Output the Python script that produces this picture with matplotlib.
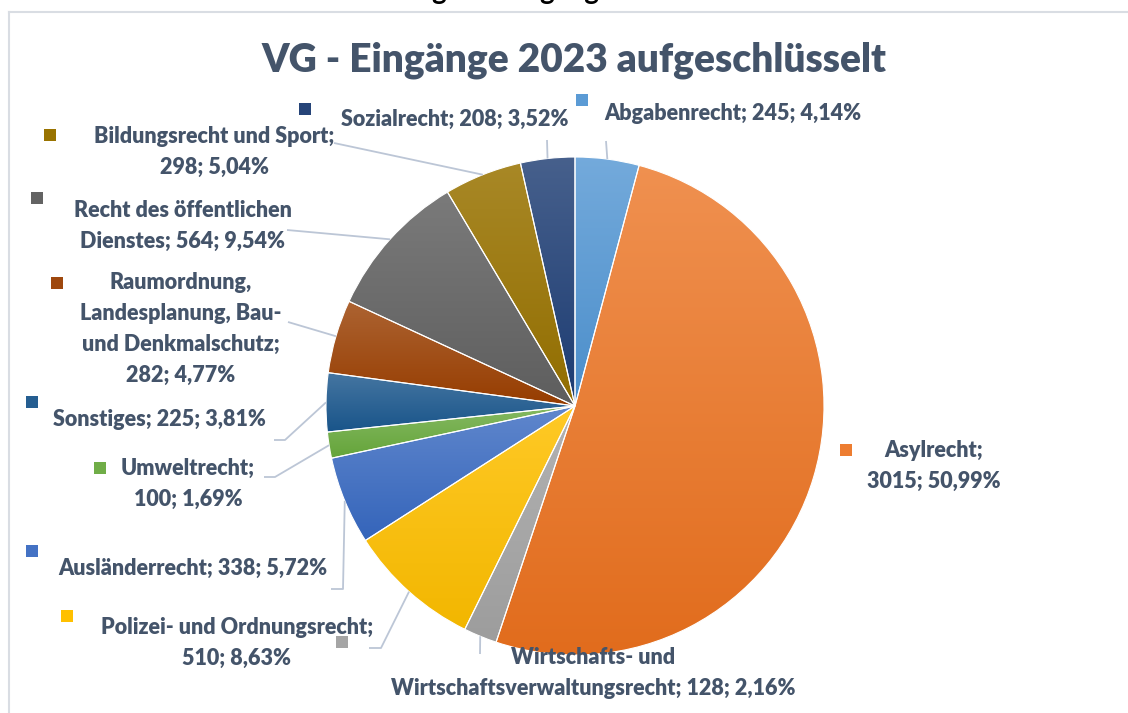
import numpy as np
import matplotlib
matplotlib.use('Agg')
import matplotlib.pyplot as plt
from matplotlib.patches import Rectangle
from matplotlib.colors import to_rgb, rgb_to_hsv, hsv_to_rgb

# Data (clockwise from 12 o'clock)
categories = [
    'Abgabenrecht', 'Asylrecht', 'Wirtschafts- und Wirtschaftsverwaltungsrecht',
    'Polizei- und Ordnungsrecht', 'Ausländerrecht', 'Umweltrecht', 'Sonstiges',
    'Raumordnung, Landesplanung, Bau- und Denkmalschutz', 'Recht des öffentlichen Dienstes',
    'Bildungsrecht und Sport', 'Sozialrecht',
]
values = [245, 3015, 128, 510, 338, 100, 225, 282, 564, 298, 208]
percent_labels = ['4,14%', '50,99%', '2,16%', '8,63%', '5,72%', '1,69%', '3,81%',
                  '4,77%', '9,54%', '5,04%', '3,52%']
# label text as shown (line breaks where Excel wrapped them)
label_texts = [
    'Abgabenrecht; 245; 4,14%',
    'Asylrecht;\n3015; 50,99%',
    'Wirtschafts- und\nWirtschaftsverwaltungsrecht; 128; 2,16%',
    'Polizei- und Ordnungsrecht;\n510; 8,63%',
    'Ausländerrecht; 338; 5,72%',
    'Umweltrecht;\n100; 1,69%',
    'Sonstiges; 225; 3,81%',
    'Raumordnung,\nLandesplanung, Bau-\nund Denkmalschutz;\n282; 4,77%',
    'Recht des öffentlichen\nDienstes; 564; 9,54%',
    'Bildungsrecht und Sport;\n298; 5,04%',
    'Sozialrecht; 208; 3,52%',
]
colors = ['#5B9BD5', '#ED7D31', '#A5A5A5', '#FFC000', '#4472C4', '#70AD47',
          '#255E91', '#9E480E', '#636363', '#997300', '#264478']

W, H = 1128, 713
text_color = '#44546A'
line_color = '#BCC6D6'

# layout in pixels (x from left, y from top)
cx, cy, R = 575, 406, 249
label_pos = [(733, 113), (934, 466), (593, 673), (237, 643), (193, 568), (188, 484),
             (159, 419), (181, 329), (183, 226), (214, 152), (455, 119)]
marker_pos = [(582, 100), (846, 450), (342, 642), (67, 616), (32, 551), (100, 468),
              (32, 402), (57, 283), (37, 198), (50, 135), (305, 109)]
# leader line start points near the labels (None = no leader line), stub = short horizontal piece
leader_start = [(606, 141), None, (480, 654), (369, 648), (331, 589), (264, 477),
                (274, 440), (288, 322), (287, 230), (334, 143), (547, 140)]
leader_stub = [0, 0, 0, 12, 12, 11, 11, 0, 0, 0, 0]


def Y(py):
    return H - py


fig = plt.figure(figsize=(W / 100, H / 100), dpi=100)
ax = fig.add_axes([0, 0, 1, 1])

wedges, _ = ax.pie(values, colors=colors, startangle=90, counterclock=False,
                   center=(cx, Y(cy)), radius=R,
                   wedgeprops=dict(linewidth=0.8, edgecolor='white'))

# Excel-like top-to-bottom gradient inside each slice
for w, col in zip(wedges, colors):
    c = np.array(to_rgb(col))
    top = c + (1 - c) * 0.15
    h, s, v = rgb_to_hsv(c)
    bot = hsv_to_rgb([h, min(1, s * 1.1), v * 0.95])
    t = np.linspace(0, 1, 256)[:, None, None]
    grad = top * (1 - t) + bot * t
    bb = w.get_path().get_extents()
    im = ax.imshow(grad, extent=(bb.x0, bb.x1, bb.y0, bb.y1), origin='upper',
                   aspect='auto', zorder=1, interpolation='bilinear')
    im.set_clip_path(w)
    w.set_facecolor('none')
    w.set_zorder(2)

# leader lines from label to the middle of each slice edge
total = sum(values)
cum = np.cumsum([0] + values[:-1])
for i, v in enumerate(values):
    if leader_start[i] is None:
        continue
    ang = np.radians((cum[i] + v / 2) / total * 360)
    ex = cx + R * np.sin(ang)
    ey = cy - R * np.cos(ang)
    sx, sy = leader_start[i]
    xs = [sx, sx + leader_stub[i], ex]
    ys = [Y(sy), Y(sy), Y(ey)]
    ax.plot(xs, ys, color=line_color, lw=1.3, zorder=3, solid_capstyle='butt')

# data labels with colour markers
for i, txt in enumerate(label_texts):
    lx, ly = label_pos[i]
    ax.text(lx, Y(ly), txt, ha='center', va='center', multialignment='center',
            fontsize=15.5, fontweight='heavy', family='Lato', color=text_color,
            linespacing=1.6, zorder=4)
    mx, my = marker_pos[i]
    ax.add_patch(Rectangle((mx - 6, Y(my) - 6), 12, 12, facecolor=colors[i],
                           edgecolor='none', zorder=4))

# title
ax.text(574, Y(60), 'VG - Eingänge 2023 aufgeschlüsselt', ha='center', va='center',
        fontsize=28, fontweight='heavy', family='Lato', color=text_color)

# heading above the chart frame, cut off by the image edge as in the original
ax.text(430, Y(-1), 'Aufschlüsselung der Eingänge', ha='center', va='baseline',
        fontsize=20, fontweight='bold', family='Lato', color='black', clip_on=False)

# chart frame
ax.plot([9, W], [Y(12), Y(12)], color='#D9DDE3', lw=1.5)
ax.plot([9, 9], [Y(12), 0], color='#D9DDE3', lw=1.5)

ax.set_xlim(0, W)
ax.set_ylim(0, H)
ax.set_aspect('auto')
ax.axis('off')

fig.savefig('out.png', dpi=100, facecolor='white')
